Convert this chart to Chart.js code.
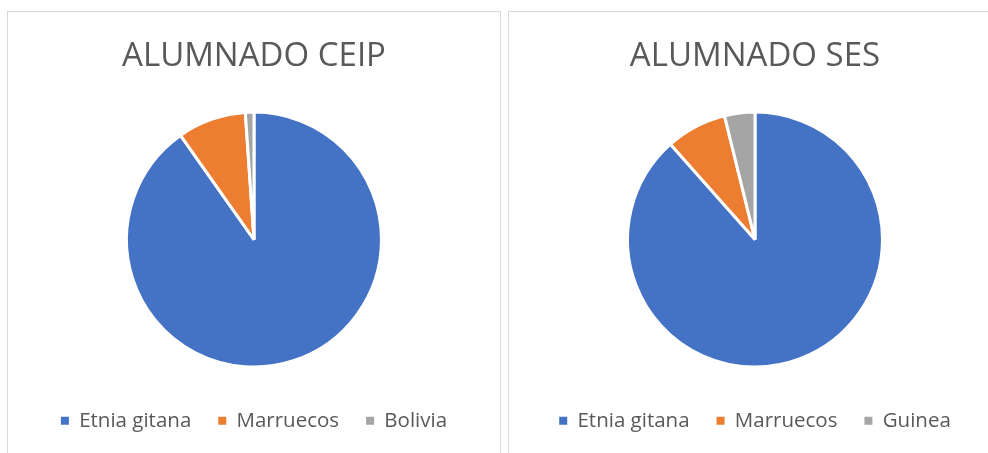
<!DOCTYPE html>
<html lang="es">
<head>
  <meta charset="UTF-8" />
  <title>Alumnado</title>
  <script src="https://cdn.jsdelivr.net/npm/chart.js"></script>
  <style>
    html, body {
      margin: 0;
      padding: 0;
      background: #ffffff;
      overflow: hidden;
      width: 988px;
      height: 453px;
    }

    .box {
      position: absolute;
      top: 11px;
      width: 492px;
      height: 460px;
      border: 1px solid #d9d9d9;
      background: #fff;
    }

    #boxCeip { left: 7px; }
    #boxSes { left: 508px; }
  </style>
</head>
<body>
  <div class="box" id="boxCeip"><canvas id="ceipChart" width="492" height="441"></canvas></div>
  <div class="box" id="boxSes"><canvas id="sesChart" width="492" height="441"></canvas></div>

  <script>
    const ceipLabels = ['Etnia gitana', 'Marruecos', 'Bolivia'];
    const ceipValues = [83, 8, 1];

    const sesLabels = ['Etnia gitana', 'Marruecos', 'Guinea'];
    const sesValues = [23, 2, 1];

    const sliceColors = ['#4472C4', '#ED7D31', '#A5A5A5'];
    const textColor = '#595959';

    function makePie(id, title, labels, values) {
      const ctx = document.getElementById(id).getContext('2d');
      new Chart(ctx, {
        type: 'pie',
        data: {
          labels: labels,
          datasets: [{
            data: values,
            backgroundColor: sliceColors,
            borderColor: '#ffffff',
            borderWidth: 3
          }]
        },
        options: {
          responsive: false,
          animation: false,
          events: [],
          layout: {
            padding: { top: 0, bottom: 12, left: 0, right: 0 }
          },
          plugins: {
            title: {
              display: true,
              text: title,
              color: textColor,
              font: { family: 'Open Sans', size: 33, weight: 'normal' },
              padding: { top: 25, bottom: 34 }
            },
            legend: {
              position: 'bottom',
              // empty title only used as spacer above the labels
              title: { display: true, text: '', font: { size: 10 }, padding: { top: 3, bottom: 0 } },
              labels: {
                color: textColor,
                font: { family: 'Open Sans', size: 20.5 },
                boxWidth: 8,
                boxHeight: 8,
                padding: 27,
                generateLabels(chart) {
                  // legend squares without the white slice border
                  const items = Chart.overrides.pie.plugins.legend.labels.generateLabels(chart);
                  items.forEach(it => { it.lineWidth = 0; });
                  return items;
                }
              }
            },
            tooltip: { enabled: false }
          }
        }
      });
    }

    makePie('ceipChart', 'ALUMNADO CEIP', ceipLabels, ceipValues);
    makePie('sesChart', 'ALUMNADO SES', sesLabels, sesValues);
  </script>
</body>
</html>
